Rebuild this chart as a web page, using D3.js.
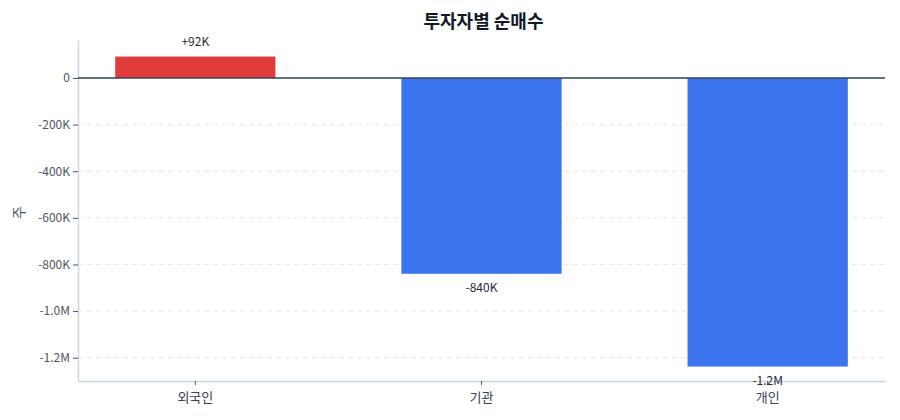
<!DOCTYPE html>
<html>
<head>
<meta charset="utf-8">
<script src="https://cdn.jsdelivr.net/npm/d3@7"></script>
<style>
  body { margin: 0; background: #fff; }
  text { font-family: "Noto Sans CJK KR", "Noto Sans", sans-serif; }
</style>
</head>
<body>
<div id="chart"></div>
<script>
// 투자자별 순매수 (주)
var investors = ['외국인', '기관', '개인'];
var netBuy = [92000, -840000, -1238000];
var valueLabels = ['+92K', '-840K', '-1.2M'];
var yTicks = [0, -200000, -400000, -600000, -800000, -1000000, -1200000];
var yTickLabels = ['0', '-200K', '-400K', '-600K', '-800K', '-1.0M', '-1.2M'];

var width = 900,
    height = 420;
var margin = { top: 40, right: 15, bottom: 39, left: 78 };

var svg = d3.select('#chart')
      .append('svg')
      .attr('width', width)
      .attr('height', height);

var x = d3.scaleBand()
      .domain(investors)
      .range([margin.left, width - margin.right])
      .paddingInner(0.44)
      .paddingOuter(0.13);

var y = d3.scaleLinear()
      .domain([-1300000, 163000])
      .range([height - margin.bottom, margin.top]);

// grid
svg.append('g')
  .selectAll('line')
  .data(yTicks.slice(1))
  .enter()
  .append('line')
  .attr('x1', margin.left)
  .attr('x2', width - margin.right)
  .attr('y1', d => y(d))
  .attr('y2', d => y(d))
  .attr('stroke', '#e5e7eb')
  .attr('stroke-dasharray', '5,4');

// y axis
var yAxis = svg.append('g')
  .attr('transform', 'translate(' + margin.left + ',0)')
  .call(d3.axisLeft(y).tickValues(yTicks)
    .tickFormat((d, i) => yTickLabels[i]).tickSize(5).tickSizeOuter(0));
yAxis.select('.domain').attr('stroke', '#d1d5db').attr('stroke-width', 1.5);
yAxis.selectAll('.tick line').attr('stroke', '#4b5563');
yAxis.selectAll('.tick text')
  .attr('fill', '#4b5563')
  .style('font-size', '12px');

// x axis
var xAxis = svg.append('g')
  .attr('transform', 'translate(0,' + (height - margin.bottom) + ')')
  .call(d3.axisBottom(x).tickSize(4).tickSizeOuter(0));
xAxis.select('.domain').attr('stroke', '#cbd5e1').attr('stroke-width', 1.5);
xAxis.selectAll('.tick line').attr('stroke', '#4b5563');
xAxis.selectAll('.tick text')
  .attr('fill', '#374151')
  .attr('dy', '1.1em')
  .style('font-size', '13px');

// bars
svg.append('g')
  .selectAll('rect')
  .data(netBuy)
  .enter()
  .append('rect')
  .attr('x', (d, i) => x(investors[i]))
  .attr('y', d => y(Math.max(0, d)))
  .attr('width', x.bandwidth())
  .attr('height', d => Math.abs(y(d) - y(0)))
  .attr('fill', d => d >= 0 ? '#e03c3c' : '#3b74ec');

// zero line
svg.append('line')
  .attr('x1', margin.left)
  .attr('x2', width - margin.right)
  .attr('y1', y(0))
  .attr('y2', y(0))
  .attr('stroke', '#334155')
  .attr('stroke-width', 1.5);

// value labels
svg.append('g')
  .selectAll('text')
  .data(netBuy)
  .enter()
  .append('text')
  .attr('x', (d, i) => x(investors[i]) + x.bandwidth() / 2)
  .attr('y', d => d >= 0 ? y(d) - 11 : y(d) + 18)
  .attr('text-anchor', 'middle')
  .attr('fill', '#1f2937')
  .style('font-size', '12px')
  .text((d, i) => valueLabels[i]);

// y label
svg.append('text')
  .attr('transform', 'translate(24,' + ((margin.top + height - margin.bottom) / 2 + 2) + ') rotate(-90)')
  .attr('text-anchor', 'middle')
  .attr('fill', '#4b5563')
  .style('font-size', '14px')
  .text('주');

// title
svg.append('text')
  .attr('x', (margin.left + width - margin.right) / 2 + 2)
  .attr('y', 28)
  .attr('text-anchor', 'middle')
  .attr('fill', '#111827')
  .style('font-size', '18px')
  .style('font-weight', 'bold')
  .text('투자자별 순매수');
</script>
</body>
</html>
